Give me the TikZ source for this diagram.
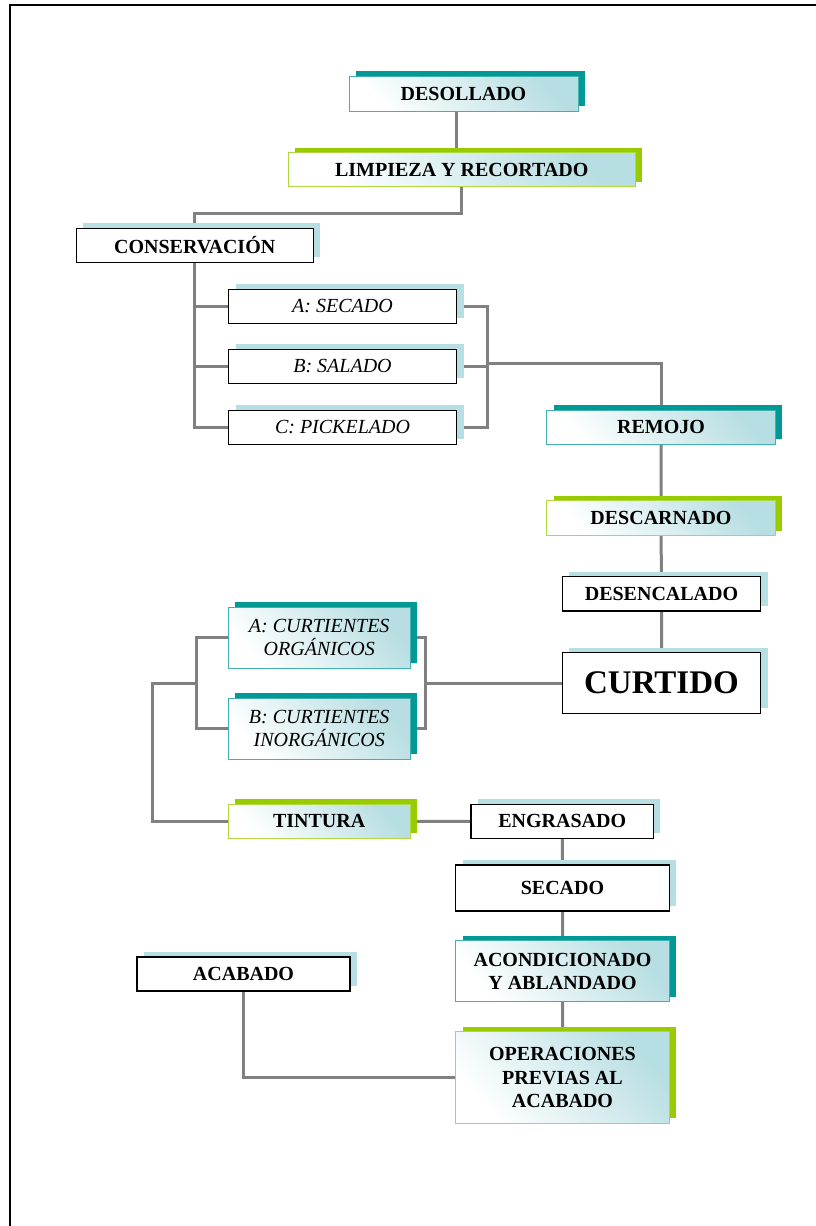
\documentclass[tikz,border=0pt]{standalone}
\usepackage{fontspec}
\setmainfont{Liberation Serif}
\usetikzlibrary{shadows,backgrounds}

\definecolor{tealdark}{RGB}{0,153,150}
\definecolor{tealedge}{RGB}{64,176,176}
\definecolor{limedark}{RGB}{153,204,0}
\definecolor{limeedge}{RGB}{176,216,64}
\definecolor{paleblue}{RGB}{183,222,226}
\definecolor{linkgray}{RGB}{128,128,128}

\begin{document}
\begin{tikzpicture}[x=1pt, y=-1pt,
  link/.style={draw=linkgray, line width=3pt},
  box/.style={inner sep=0pt, align=center, font=\fontsize{20}{23.3}\selectfont\bfseries},
  plain/.style={box, draw=black, line width=1.2pt, fill=white,
    general shadow={fill=paleblue, shadow xshift=7pt, shadow yshift=5pt}},
  tealbox/.style={box, draw=tealedge, line width=1pt,
    top color=paleblue, bottom color=white, shading angle=-50,
    general shadow={fill=tealdark, shadow xshift=7pt, shadow yshift=5pt}},
  limebox/.style={box, draw=limeedge, line width=1pt,
    top color=paleblue, bottom color=white, shading angle=-50,
    general shadow={fill=limedark, shadow xshift=7pt, shadow yshift=5pt}},
  slant/.style={font=\fontsize{20}{23.3}\selectfont\itshape}]

  \useasboundingbox (0,0) rectangle (815,1226);
  \draw[line width=1.6pt] (10,1300) -- (10,5) -- (900,5);

  % upper chain
  \node[tealbox, minimum width=229pt, minimum height=35pt] (desollado) at (463.5,93.5) {DESOLLADO};
  \node[limebox, minimum width=347pt, minimum height=34pt] (limpieza) at (461.8,169.7) {LIMPIEZA Y RECORTADO};
  \node[plain, minimum width=237pt, minimum height=34pt] (conserv) at (194.7,245.3) {CONSERVACIÓN};
  \node[plain, slant, minimum width=228pt, minimum height=34pt] (secadoA) at (342.5,306.2) {A: SECADO};
  \node[plain, slant, minimum width=228pt, minimum height=34pt] (saladoB) at (342.5,366.3) {B: SALADO};
  \node[plain, slant, minimum width=228pt, minimum height=34pt] (pickC) at (342.5,427.2) {C: PICKELADO};

  % right column
  \node[tealbox, minimum width=228.6pt, minimum height=34.3pt] (remojo) at (661,427.2) {REMOJO};
  \node[limebox, minimum width=228.6pt, minimum height=34.7pt] (descarnado) at (661,518.3) {DESCARNADO};
  \node[plain, minimum width=198.4pt, minimum height=34.3pt] (desencalado) at (661.5,593.8) {DESENCALADO};
  \node[plain, minimum width=198.4pt, minimum height=60.6pt,
    font=\fontsize{33}{36}\selectfont\bfseries] (curtido) at (661.5,683) {CURTIDO};

  % tanning agents
  \node[tealbox, slant, minimum width=181.7pt, minimum height=60.7pt] (organicos) at (319.2,637.7) {A: CURTIENTES\\ORGÁNICOS};
  \node[tealbox, slant, minimum width=181.7pt, minimum height=60.7pt] (inorganicos) at (319.2,728.7) {B: CURTIENTES\\INORGÁNICOS};
  \node[limebox, minimum width=181.7pt, minimum height=34.3pt] (tintura) at (319.2,821.2) {TINTURA};

  % lower chain
  \node[plain, minimum width=182.3pt, minimum height=34pt] (engrasado) at (562.2,821.3) {ENGRASADO};
  \node[plain, minimum width=213.6pt, minimum height=46pt] (secado) at (562.5,888) {SECADO};
  \node[tealbox, minimum width=213.6pt, minimum height=61pt] (acond) at (562.5,971.2) {ACONDICIONADO\\Y ABLANDADO};
  \node[limebox, minimum width=213.6pt, minimum height=91.6pt] (operaciones) at (562.5,1077.5) {OPERACIONES\\PREVIAS AL\\ACABADO};
  \node[plain, minimum width=213pt, minimum height=34pt] (acabado) at (243.5,974) {ACABADO};

  \begin{scope}[on background layer]
    \draw[link] ([xshift=-7pt]desollado.south) -- ([xshift=-7pt]desollado.south |- limpieza.north); %% desollado->limpieza
    \draw[link] (limpieza.south) -- ++(0,26) -| (conserv.north); %% limpieza->conserv
    \draw[link] (conserv.south) |- (pickC.west);
    \draw[link] (conserv.south |- secadoA.west) -- (secadoA.west);
    \draw[link] (conserv.south |- saladoB.west) -- (saladoB.west);
    \draw[link] (secadoA.east) -- ++(30,0) |- (pickC.east);
    \draw[link] (saladoB.east) -- ++(30,0) coordinate (jcons);
    \draw[link] ([yshift=3pt]jcons) -| (remojo.north); %% conserv->remojo
    \draw[link] (remojo) -- (descarnado) -- (desencalado) -- (curtido);
    \draw[link] (organicos.west) -- ++(-31,0) |- (inorganicos.west);
    \draw[link] (organicos.east) -- ++(15,0) |- (inorganicos.east);
    \draw[link] ([xshift=15pt]organicos.east |- curtido.west) -- (curtido.west); %% curtientes->curtido
    \draw[link] ([xshift=-31pt]organicos.west |- curtido.west) -- ++(-44.6,0) |- (tintura.west);
    \draw[link] (tintura) -- (engrasado); %% tintura->engrasado
    \draw[link] (engrasado) -- (secado) -- (acond) -- (operaciones);
    \draw[link] (acabado.south) |- (operaciones.west); %% acabado->operaciones
  \end{scope}
\end{tikzpicture}
\end{document}
